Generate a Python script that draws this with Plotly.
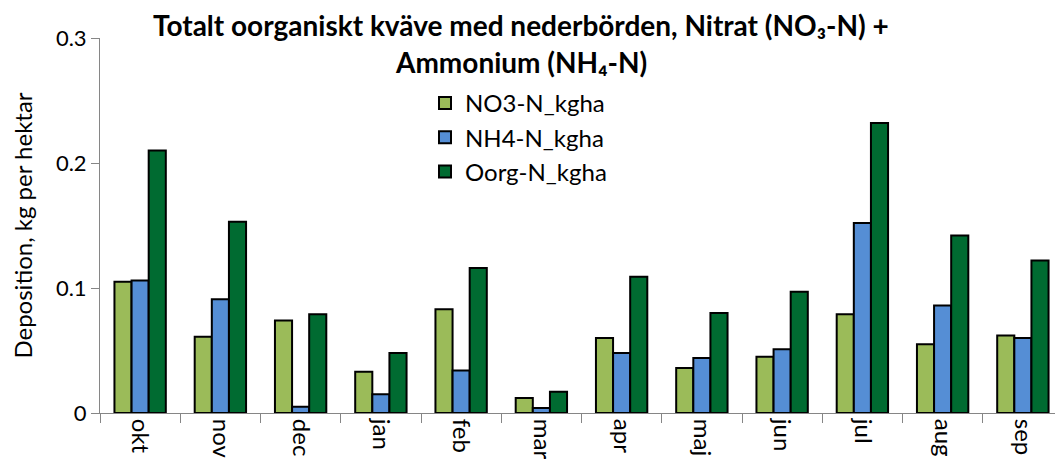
import plotly.graph_objects as go

months = ["okt", "nov", "dec", "jan", "feb", "mar", "apr", "maj", "jun", "jul", "aug", "sep"]
no3 = [0.105, 0.061, 0.074, 0.033, 0.083, 0.012, 0.060, 0.036, 0.045, 0.079, 0.055, 0.062]
nh4 = [0.106, 0.091, 0.005, 0.015, 0.034, 0.004, 0.048, 0.044, 0.051, 0.152, 0.086, 0.060]
oorg = [0.210, 0.153, 0.079, 0.048, 0.116, 0.017, 0.109, 0.080, 0.097, 0.232, 0.142, 0.122]
series_names = ["NO3-N_kgha", "NH4-N_kgha", "Oorg-N_kgha"]
colors = ["#9BBB59", "#558ED5", "#006B31"]
title_lines = ["<b>Totalt oorganiskt kväve med nederbörden, Nitrat (NO₃-N) +</b>",
               "<b>Ammonium (NH₄-N)</b>"]

FONT = "Lato, Carlito, Calibri, sans-serif"
# the page body adds an 8px margin, so the figure is drawn 8px smaller and offset
OFF = 8
W, H = 1063 - OFF, 470 - OFF
PL, PR = 100 - OFF, 1063 - OFF      # plot area left/right (figure px)
PT, PB = 38 - OFF, 413 - OFF        # plot area top/bottom (figure px)

fig = go.Figure()
for name, vals, col in zip(series_names, [no3, nh4, oorg], colors):
    fig.add_trace(go.Bar(
        x=months, y=vals, name=name,
        marker=dict(color=col, line=dict(color="black", width=2)),
    ))

def ypaper(page_px):
    return (PB - (page_px - OFF)) / (PB - PT)

def xpaper(page_px):
    return ((page_px - OFF) - PL) / (PR - PL)

for txt, ypx in zip(title_lines, [25, 62]):
    fig.add_annotation(
        text=txt, xref="paper", yref="paper",
        x=xpaper(521), y=ypaper(ypx),
        xanchor="center", yanchor="middle", showarrow=False,
        font=dict(family=FONT, size=28, color="black"),
    )

fig.update_layout(
    width=W, height=H,
    margin=dict(l=PL, r=W - PR, t=PT, b=H - PB, autoexpand=False),
    paper_bgcolor="white", plot_bgcolor="white",
    barmode="group", bargap=0.36, bargroupgap=0,
    font=dict(family=FONT, color="black"),
    legend=dict(
        x=xpaper(425), y=ypaper(81), xanchor="left", yanchor="top",
        bgcolor="rgba(0,0,0,0)", font=dict(family=FONT, size=24),
        tracegroupgap=0, itemsizing="constant",
    ),
    showlegend=True,
)
fig.update_xaxes(
    type="category", tickangle=90, tickfont=dict(size=24, family=FONT),
    showline=True, linecolor="#868686", linewidth=1,
    ticks="outside", tickson="boundaries", ticklen=9, tickcolor="#868686",
    showgrid=False, automargin=False,
)
fig.update_yaxes(
    range=[0, 0.3], tickvals=[0, 0.1, 0.2, 0.3], ticktext=["0", "0.1", "0.2", "0.3"],
    tickfont=dict(size=22, family=FONT),
    showline=True, linecolor="#868686", linewidth=1,
    ticks="outside", ticklen=8, tickcolor="#868686",
    showgrid=False, zeroline=False, automargin=False,
    title=dict(text="Deposition, kg per hektar", font=dict(size=24, family=FONT), standoff=19),
)

fig.write_html("out.html")
